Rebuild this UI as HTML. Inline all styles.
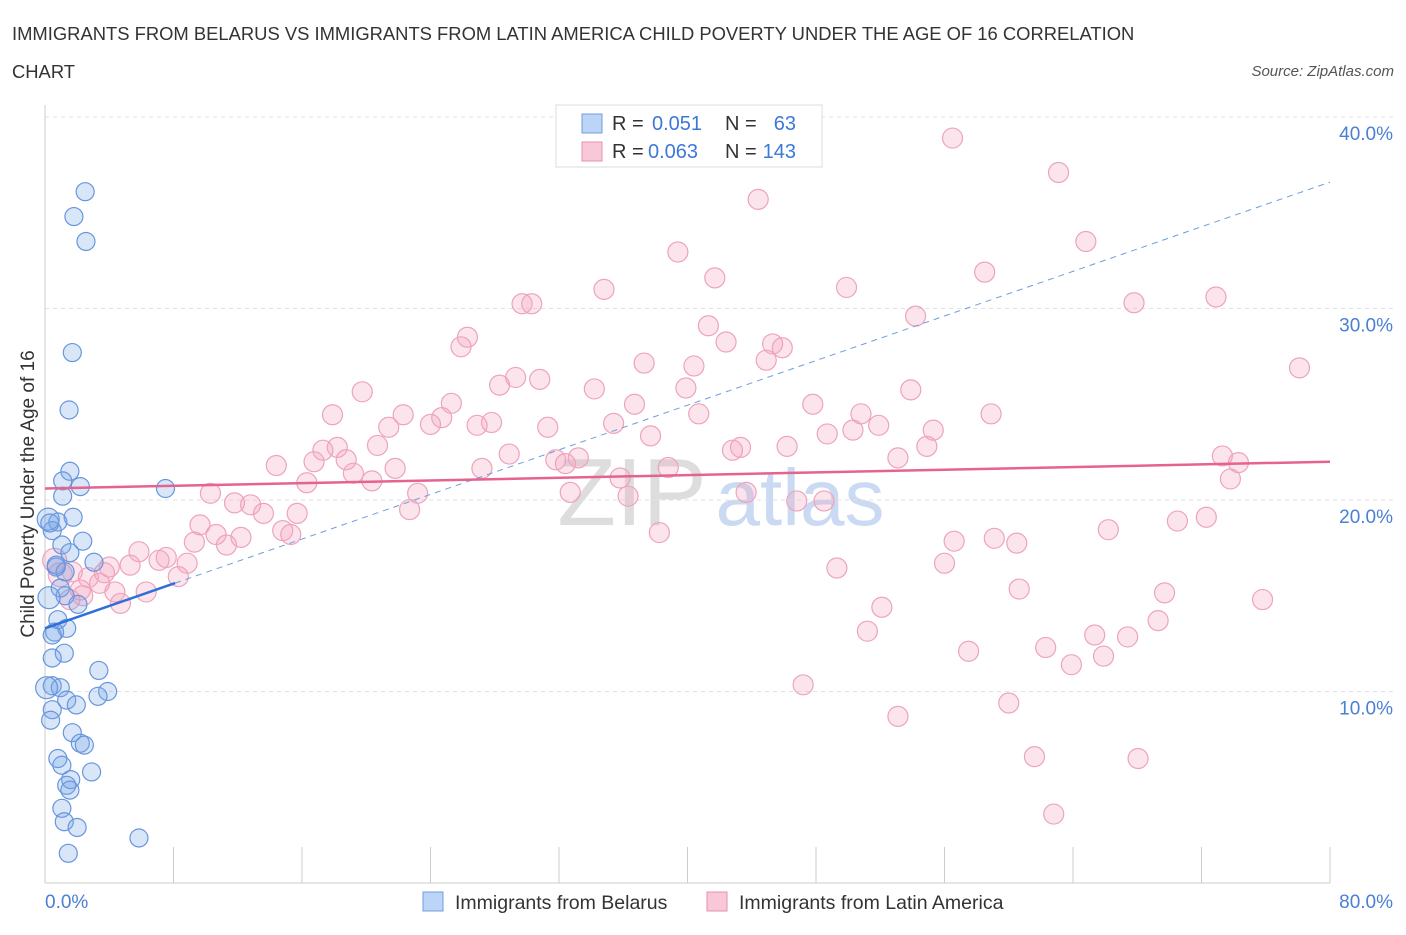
<!DOCTYPE html>
<html><head><meta charset="utf-8"><style>
body{margin:0;background:#fff;font-family:"Liberation Sans",sans-serif;}
svg text{font-family:"Liberation Sans",sans-serif;}
</style></head><body>
<svg id="chart" width="1406" height="930" xmlns="http://www.w3.org/2000/svg">
<text x="12" y="40" font-size="18.4" fill="#333">IMMIGRANTS FROM BELARUS VS IMMIGRANTS FROM LATIN AMERICA CHILD POVERTY UNDER THE AGE OF 16 CORRELATION</text>
<text x="12" y="78" font-size="18.4" fill="#333">CHART</text>
<text x="1394" y="76" font-size="15" font-style="italic" fill="#555" text-anchor="end">Source: ZipAtlas.com</text>
<g>
<text x="632" y="525" font-size="96" font-family="Liberation Serif" fill="#ddd" text-anchor="middle">ZIP</text>
<text x="800" y="525" font-size="80" fill="#c9daf2" text-anchor="middle">atlas</text>
</g>
<g id="grid"></g><g id="axes"></g><g id="marks"></g><g id="trends"></g>
<text transform="translate(34,494) rotate(-90)" font-size="19" fill="#333" text-anchor="middle">Child Poverty Under the Age of 16</text>
<text x="45" y="908" font-size="19" fill="#4a7fd4">0.0%</text>
<text x="1393" y="908" font-size="19" fill="#4a7fd4" text-anchor="end">80.0%</text>
<g>
<rect x="556" y="105" width="266" height="62" fill="#fff" stroke="#ddd"/>
<rect x="582" y="114" width="20" height="19" fill="#bcd4f5" stroke="#6d9de0"/>
<rect x="582" y="142" width="20" height="19" fill="#f8c8d8" stroke="#e88fae"/>
<text x="612" y="130" font-size="20" fill="#333">R =</text>
<text x="652" y="130" font-size="20" fill="#3d78d8">0.051</text>
<text x="725" y="130" font-size="20" fill="#333">N =</text>
<text x="796" y="130" font-size="20" fill="#3d78d8" text-anchor="end">63</text>
<text x="612" y="158" font-size="20" fill="#333">R =</text>
<text x="648" y="158" font-size="20" fill="#3d78d8">0.063</text>
<text x="725" y="158" font-size="20" fill="#333">N =</text>
<text x="796" y="158" font-size="20" fill="#3d78d8" text-anchor="end">143</text>
</g>
<g>
<rect x="423" y="892" width="20" height="19" fill="#bcd4f5" stroke="#6d9de0"/>
<text x="455" y="909" font-size="19.5" fill="#333">Immigrants from Belarus</text>
<rect x="707" y="892" width="20" height="19" fill="#f8c8d8" stroke="#e88fae"/>
<text x="739" y="909" font-size="19.5" fill="#333">Immigrants from Latin America</text>
</g>
</svg>
<script>
const yTicks=[10,20,30,40];
const yTickLabels=["10.0%","20.0%","30.0%","40.0%"];
const belX=[2.5,1.8,2.55,1.7,1.5,1.55,1.1,2.2,7.5,1.1,1.75,0.8,0.45,1.05,2.35,1.55,3.05,0.7,1.25,0.95,1.25,2.05,0.25,0.8,1.35,0.6,0.45,1.2,0.45,3.35,0.45,0.95,3.9,3.3,1.35,1.95,0.45,0.35,1.7,2.2,2.45,0.8,1.05,2.9,1.6,1.35,1.55,1.05,1.2,2.0,5.85,1.45,0.2,0.3,0.1,0.7];
const belY=[36.1,34.8,33.5,27.7,24.7,21.5,21.0,20.7,20.6,20.2,19.1,18.85,18.4,17.65,17.85,17.25,16.75,16.5,16.25,15.4,15.0,14.55,14.9,13.75,13.3,13.1,12.95,12.0,11.75,11.1,10.3,10.2,10.0,9.75,9.55,9.3,9.05,8.5,7.85,7.3,7.2,6.5,6.15,5.8,5.4,5.1,4.85,3.9,3.2,2.9,2.35,1.55,19.0,18.8,10.2,16.6];
const latX=[56.5,63.1,44.4,64.8,39.4,41.7,58.5,49.9,34.8,72.9,29.7,30.3,67.8,54.2,41.3,26.3,25.9,42.4,45.3,45.9,44.9,37.3,40.4,78.1,29.3,30.8,28.3,34.2,39.9,19.75,53.9,25.3,36.7,47.8,40.7,58.9,17.9,22.3,50.8,24.7,24.0,27.8,26.9,35.4,51.9,21.4,31.3,50.3,55.3,48.7,37.7,20.7,18.2,17.3,43.3,46.2,42.8,54.9,28.9,18.75,31.8,33.2,53.1,73.3,16.75,74.3,14.4,21.8,32.4,38.8,27.2,19.2,35.8,20.35,16.3,73.8,10.3,43.65,32.7,36.3,23.2,11.8,12.8,46.8,48.5,13.6,15.7,22.7,9.65,70.5,72.3,66.2,10.65,14.8,15.3,12.2,9.3,11.3,38.25,59.1,56.6,60.5,5.85,7.55,7.1,8.85,5.3,4.0,3.7,56.0,49.3,8.3,2.7,3.4,1.7,60.65,69.7,6.3,4.35,2.35,4.7,75.8,52.1,69.3,51.2,65.35,67.4,62.3,65.9,57.5,63.9,47.2,60.0,53.1,61.6,68.05,62.8,0.6,0.95,1.55,2.2];
const latY=[38.9,37.1,35.7,33.5,32.95,31.6,31.9,31.1,31.0,30.6,30.25,30.25,30.3,29.6,29.1,28.5,28.0,28.25,28.15,27.95,27.3,27.15,27.0,26.9,26.4,26.3,26.0,25.8,25.85,25.65,25.75,25.05,25.0,25.0,24.5,24.5,24.45,24.45,24.5,24.3,23.95,24.05,23.9,24.0,23.9,23.8,23.8,23.65,23.65,23.45,23.35,22.85,22.75,22.6,22.75,22.8,22.6,22.8,22.4,22.1,22.1,22.2,22.2,22.3,22.0,21.95,21.8,21.65,21.9,21.7,21.65,21.4,21.15,21.0,20.9,21.1,20.35,20.4,20.4,20.2,20.35,19.85,19.75,19.95,19.95,19.3,19.3,19.5,18.7,18.9,19.1,18.45,18.2,18.4,18.2,18.05,17.8,17.65,18.3,18.0,17.85,17.75,17.3,17.0,16.85,16.7,16.6,16.5,16.2,16.7,16.45,16.0,15.95,15.65,16.25,15.35,15.15,15.2,15.2,15.0,14.6,14.8,14.4,13.7,13.15,12.95,12.85,12.3,11.85,12.1,11.4,10.35,9.4,8.7,6.6,6.5,3.6,16.85,16.1,14.8,15.3];
const belTrend=[13.3,15.66],belTrendX=[0,8.1],belDashEnd=[80,36.6];
const latTrend=[20.6,22.0];
const X0=45,X1=1330,Y0=883,PY=19.15;
const sx=v=>X0+v/80*(X1-X0), sy=v=>Y0-v*PY;
const NS="http://www.w3.org/2000/svg";
function mk(tag,parent,attrs){const e=document.createElementNS(NS,tag);for(const k in attrs)e.setAttribute(k,attrs[k]);parent.appendChild(e);return e;}
const grid=document.getElementById('grid'),axes=document.getElementById('axes'),marks=document.getElementById('marks'),trends=document.getElementById('trends');
yTicks.forEach((t,i)=>{
 const l=mk('line',grid,{x1:X0,x2:1395,y1:sy(t),y2:sy(t),stroke:'#e2e2e2','stroke-dasharray':'4,4'});
 
 
 const tx=mk('text',grid,{x:1393,y:sy(t)+23,'font-size':19,fill:'#4a7fd4','text-anchor':'end'});
 tx.textContent=yTickLabels[i];
 
 
});
const ax=mk('line',axes,{x1:X0,x2:X0,y1:105,y2:Y0,stroke:'#ccc'});


const bx=mk('line',axes,{x1:X0,x2:X1,y1:Y0,y2:Y0,stroke:'#ccc'});


for(let i=1;i<=10;i++){const t=mk('line',axes,{x1:sx(i*8),x2:sx(i*8),y1:847,y2:Y0,stroke:'#ccc'});
 
 }
latX.forEach((x,i)=>{const r=(x<1)?12:10;const c=mk('circle',marks,{cx:sx(x),cy:sy(latY[i]),r:r,fill:'rgba(244,165,192,0.3)',stroke:'#eda3bc','stroke-width':1.2});
 
 });
belX.forEach((x,i)=>{const r=(x<0.3)?11:9;const c=mk('circle',marks,{cx:sx(x),cy:sy(belY[i]),r:r,fill:'rgba(120,165,230,0.28)',stroke:'#6796de','stroke-width':1.2});
 
 });
const d=mk('line',trends,{x1:sx(belTrendX[1]),y1:sy(belTrend[1]),x2:sx(belDashEnd[0]),y2:sy(belDashEnd[1]),stroke:'#6d9de0','stroke-width':1,'stroke-dasharray':'6,5'});


const b=mk('line',trends,{x1:sx(belTrendX[0]),y1:sy(belTrend[0]),x2:sx(belTrendX[1]),y2:sy(belTrend[1]),stroke:'#2f6fd8','stroke-width':2.5});


const p=mk('line',trends,{x1:sx(0),y1:sy(latTrend[0]),x2:sx(80),y2:sy(latTrend[1]),stroke:'#e5638e','stroke-width':2.5});


</script>
</body></html>
